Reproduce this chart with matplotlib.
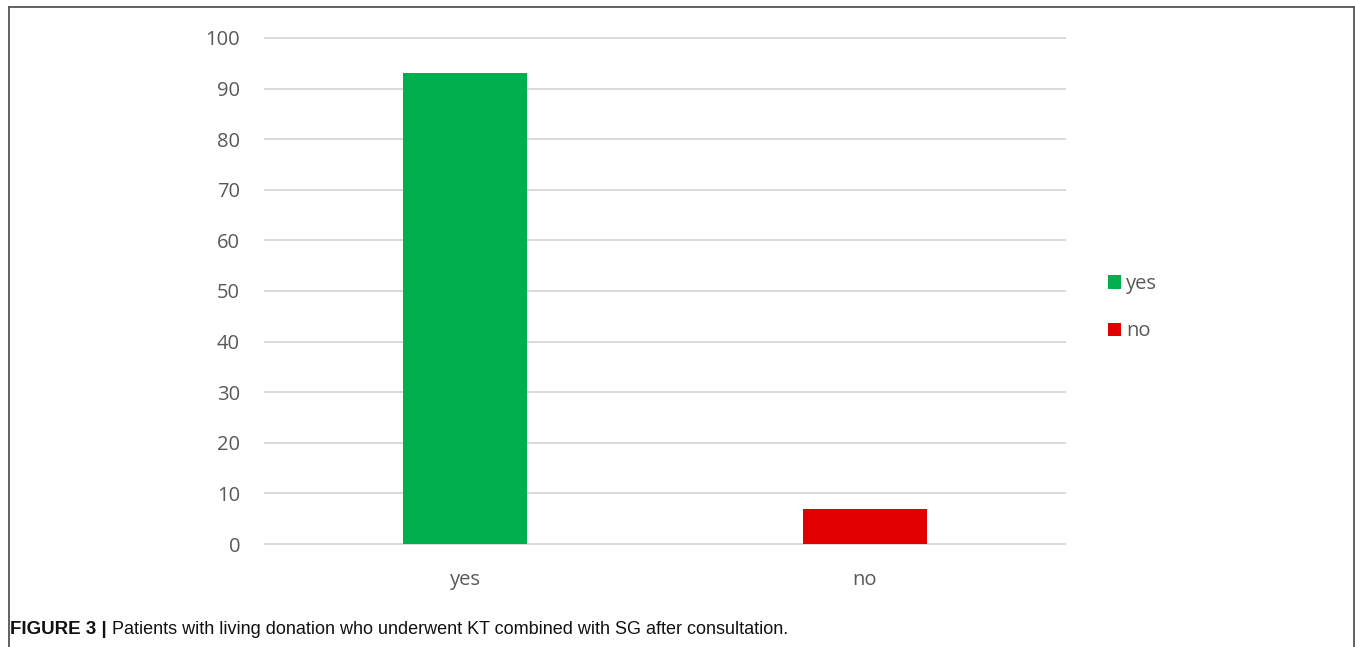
import matplotlib.pyplot as plt
from matplotlib.lines import Line2D

categories = ["yes", "no"]
values = [93, 7]
bar_colors = ["#00b04f", "#e00000"]
y_ticks = list(range(0, 101, 10))
caption_bold = "FIGURE 3 |"
caption_text = " Patients with living donation who underwent KT combined with SG after consultation."

W, H = 1355, 647
fig = plt.figure(figsize=(W / 100, H / 100), dpi=100)

# axes box in pixel terms of the figure
left, right = 265 / W, 1065 / W
bottom, top = (H - 544) / H, (H - 38) / H
ax = fig.add_axes([left, bottom, right - left, top - bottom])

text_color = "#595959"
x = range(len(categories))
bars = ax.bar(x, values, width=0.31, color=bar_colors, zorder=3)

ax.set_xlim(-0.5, len(categories) - 0.5)
ax.set_ylim(0, 100)
ax.set_yticks(y_ticks)
ax.set_xticks(list(x))
ax.set_xticklabels(categories)
ax.yaxis.grid(True, color="#d9d9d9", linewidth=1.4, zorder=0)
for gl in ax.get_ygridlines():
    gl.set_clip_on(False)
ax.set_axisbelow(True)
for s in ax.spines.values():
    s.set_visible(False)
ax.tick_params(axis="both", length=0, labelsize=14.5, labelcolor=text_color)
ax.tick_params(axis="y", pad=18)
ax.tick_params(axis="x", pad=19)
for lab in ax.get_xticklabels() + ax.get_yticklabels():
    lab.set_fontfamily("Open Sans")

handles = [bars[0], bars[1]]
leg = fig.legend(handles, categories, loc="upper left",
                 bbox_to_anchor=(1090 / W, (H - 256) / H),
                 frameon=False, handlelength=0.65, handleheight=0.65,
                 handletextpad=0.25, labelspacing=1.35,
                 prop={"family": "Open Sans", "size": 14.5})
for t in leg.get_texts():
    t.set_color(text_color)

# outer frame around the chart area
frame_kw = dict(color="#555555", linewidth=1.3, transform=fig.transFigure)
fig.add_artist(Line2D([9 / W, 1354 / W], [(H - 7) / H, (H - 7) / H], **frame_kw))
fig.add_artist(Line2D([9 / W, 9 / W], [0, (H - 7) / H], **frame_kw))
fig.add_artist(Line2D([1354 / W, 1354 / W], [0, (H - 7) / H], **frame_kw))

# caption
cy = (H - 630) / H
t1 = fig.text(10 / W, cy, caption_bold, fontsize=13.5, fontweight="bold",
              family="Liberation Sans", va="center", color="#111111")
fig.canvas.draw()
bb = t1.get_window_extent()
fig.text(bb.x1 / W, cy, caption_text, fontsize=13,
         family="Liberation Sans", va="center", color="#111111")

fig.savefig("out.png", dpi=100)
